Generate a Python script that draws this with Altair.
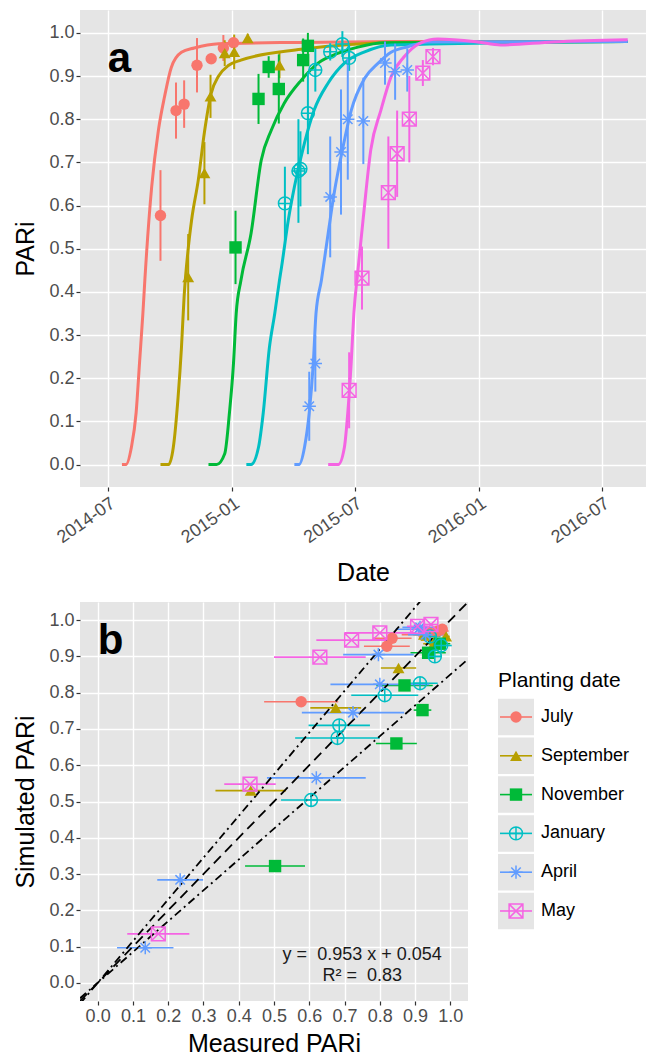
import altair as alt
import pandas as pd

FONT = "Liberation Sans"
BG = "#E5E5E5"

series = ["July", "September", "November", "January", "April", "May"]
palette = ["#F8766D", "#B79F00", "#00BA38", "#00BFC4", "#619CFF", "#F564E3"]
filled_series = ["July", "September", "November"]
open_series = ["January", "April", "May"]

CIRCLE_PLUS = "M-1,0A1,1,0,1,1,1,0A1,1,0,1,1,-1,0ZM-1,0L1,0M0,-1L0,1"
ASTERISK = "M-1,0L1,0M0,-1L0,1M-0.71,-0.71L0.71,0.71M-0.71,0.71L0.71,-0.71"
SQUARE_X = "M-1,-1L1,-1L1,1L-1,1ZM-1,-1L1,1M-1,1L1,-1"
shapes = ["circle", "triangle-up", "square", CIRCLE_PLUS, ASTERISK, SQUARE_X]
sizes = [130, 190, 120, 170, 320, 160]

# ---------------- simulated PARi curves (panel a) ----------------
july_curve_date = ["2014-07-22", "2014-07-28", "2014-08-05", "2014-08-12", "2014-08-17", "2014-08-22",
                   "2014-08-25", "2014-09-04", "2014-09-14", "2014-09-23", "2014-10-03", "2014-10-18",
                   "2014-11-06", "2014-12-12", "2015-04-13", "2015-09-08", "2016-08-08"]
july_curve_pari = [0, 0, 0.04, 0.12, 0.235, 0.35, 0.43, 0.643, 0.775, 0.852, 0.92, 0.955,
                   0.965, 0.975, 0.978, 0.98, 0.98]

sep_curve_date = ["2014-09-17", "2014-09-29", "2014-10-06", "2014-10-13", "2014-10-18", "2014-10-22",
                  "2014-10-28", "2014-11-02", "2014-11-12", "2014-11-21", "2014-12-01", "2014-12-12",
                  "2014-12-27", "2015-01-14", "2015-04-13", "2015-09-08", "2016-08-08"]
sep_curve_pari = [0, 0, 0.04, 0.155, 0.27, 0.39, 0.5, 0.566, 0.66, 0.77, 0.86, 0.90,
                  0.925, 0.937, 0.962, 0.978, 0.98]

nov_curve_date = ["2014-11-27", "2014-12-09", "2014-12-21", "2014-12-28", "2015-01-03", "2015-01-07",
                  "2015-01-14", "2015-01-29", "2015-02-13", "2015-02-28", "2015-03-19", "2015-04-13",
                  "2015-05-08", "2015-06-07", "2015-07-06", "2015-08-14", "2016-08-08"]
nov_curve_pari = [0, 0, 0.025, 0.12, 0.235, 0.35, 0.427, 0.536, 0.705, 0.775, 0.837, 0.89,
                  0.93, 0.953, 0.967, 0.977, 0.98]

jan_curve_date = ["2015-01-22", "2015-01-29", "2015-02-09", "2015-02-16", "2015-02-25", "2015-03-05",
                  "2015-03-12", "2015-03-15", "2015-03-25", "2015-04-03", "2015-04-18", "2015-05-02",
                  "2015-05-23", "2015-06-16", "2015-07-16", "2015-08-24", "2016-08-08"]
jan_curve_pari = [0, 0, 0.04, 0.12, 0.27, 0.35, 0.427, 0.457, 0.566, 0.643, 0.745, 0.82,
                  0.884, 0.93, 0.956, 0.972, 0.98]

apr_curve_date = ["2015-04-03", "2015-04-10", "2015-04-18", "2015-04-25", "2015-05-01", "2015-05-05",
                  "2015-05-13", "2015-05-23", "2015-06-01", "2015-06-14", "2015-06-26", "2015-07-16",
                  "2015-08-05", "2015-08-24", "2015-09-18", "2015-10-18", "2016-08-08"]
apr_curve_pari = [0, 0, 0.04, 0.12, 0.235, 0.35, 0.427, 0.536, 0.63, 0.736, 0.82, 0.895,
                  0.93, 0.955, 0.968, 0.979, 0.98]

may_curve_date = ["2015-05-23", "2015-06-07", "2015-06-16", "2015-06-21", "2015-06-26", "2015-06-30",
                  "2015-07-06", "2015-07-14", "2015-07-25", "2015-08-09", "2015-08-24", "2015-09-12",
                  "2015-10-07", "2015-11-01", "2015-12-30", "2016-02-02", "2016-04-20", "2016-08-08"]
may_curve_pari = [0, 0, 0.04, 0.12, 0.235, 0.35, 0.45, 0.573, 0.729, 0.821, 0.898, 0.944,
                  0.977, 0.986, 0.979, 0.972, 0.979, 0.984]

# ---------------- observations: date, measured PARi, SD, simulated PARi ----------------
july_obs_date = ["2014-09-17", "2014-10-10", "2014-10-22", "2014-11-10", "2014-12-01", "2014-12-19", "2015-01-03"]
july_measured = [0.577, 0.82, 0.835, 0.925, 0.94, 0.965, 0.977]
july_sd = [0.105, 0.065, 0.055, 0.063, 0.012, 0.03, 0.012]
july_simulated = [0.775, 0.928, 0.95, 0.96, 0.965, 0.97, 0.975]

sep_obs_date = ["2014-10-28", "2014-11-21", "2014-11-30", "2014-12-21", "2015-01-04", "2015-01-24", "2015-03-12"]
sep_measured = [0.434, 0.675, 0.853, 0.953, 0.956, 0.988, 0.925]
sep_sd = [0.1, 0.072, 0.05, 0.03, 0.04, 0.01, 0.03]
sep_simulated = [0.53, 0.758, 0.868, 0.935, 0.945, 0.955, 0.96]

nov_obs_date = ["2015-01-06", "2015-02-09", "2015-02-24", "2015-03-11", "2015-04-16", "2015-04-23"]
nov_measured = [0.503, 0.847, 0.921, 0.870, 0.937, 0.970]
nov_sd = [0.085, 0.058, 0.025, 0.08, 0.05, 0.03]
nov_simulated = [0.322, 0.66, 0.752, 0.82, 0.91, 0.935]

jan_obs_date = ["2015-03-20", "2015-04-09", "2015-04-12", "2015-04-23", "2015-05-04", "2015-05-26", "2015-06-13", "2015-06-23"]
jan_measured = [0.605, 0.680, 0.685, 0.814, 0.914, 0.956, 0.974, 0.942]
jan_sd = [0.085, 0.12, 0.087, 0.095, 0.05, 0.02, 0.03, 0.03]
jan_simulated = [0.504, 0.675, 0.71, 0.793, 0.826, 0.90, 0.93, 0.955]

apr_obs_date = ["2015-04-25", "2015-05-04", "2015-05-26", "2015-06-11", "2015-06-21", "2015-07-14", "2015-08-15", "2015-08-30", "2015-09-17"]
apr_measured = [0.135, 0.234, 0.62, 0.724, 0.80, 0.796, 0.93, 0.91, 0.914]
apr_sd = [0.08, 0.065, 0.14, 0.145, 0.14, 0.1, 0.05, 0.065, 0.05]
apr_simulated = [0.097, 0.284, 0.565, 0.745, 0.823, 0.905, 0.96, 0.975, 0.98]

may_obs_date = ["2015-06-23", "2015-07-12", "2015-08-20", "2015-09-02", "2015-09-20", "2015-10-10", "2015-10-25"]
may_measured = [0.172, 0.432, 0.63, 0.72, 0.80, 0.907, 0.945]
may_sd = [0.088, 0.073, 0.13, 0.1, 0.1, 0.03, 0.02]
may_simulated = [0.135, 0.548, 0.898, 0.945, 0.965, 0.983, 0.988]

# reference lines of panel b (1:1 and +/-15 %)
ref_x = [-0.05, 1.05]
ref_slopes = {"one": 1.0, "upper": 1.15, "lower": 0.85}

eq_text = ["y =\u00a0 0.953 x + 0.054", "R\u00b2 =\u00a0 0.83"]

# ---------------- tables ----------------
curve_lists = [(july_curve_date, july_curve_pari), (sep_curve_date, sep_curve_pari),
               (nov_curve_date, nov_curve_pari), (jan_curve_date, jan_curve_pari),
               (apr_curve_date, apr_curve_pari), (may_curve_date, may_curve_pari)]
curves = pd.concat([pd.DataFrame({"series": s, "date": d, "pari": v})
                    for s, (d, v) in zip(series, curve_lists)], ignore_index=True)

obs_lists = [(july_obs_date, july_measured, july_sd, july_simulated),
             (sep_obs_date, sep_measured, sep_sd, sep_simulated),
             (nov_obs_date, nov_measured, nov_sd, nov_simulated),
             (jan_obs_date, jan_measured, jan_sd, jan_simulated),
             (apr_obs_date, apr_measured, apr_sd, apr_simulated),
             (may_obs_date, may_measured, may_sd, may_simulated)]
obs = pd.concat([pd.DataFrame({"series": s, "date": d, "measured": m, "sd": e, "simulated": sim})
                 for s, (d, m, e, sim) in zip(series, obs_lists)], ignore_index=True)
obs["lo"] = obs["measured"] - obs["sd"]
obs["hi"] = obs["measured"] + obs["sd"]

ref = pd.DataFrame([{"kind": k, "x": x, "y": sl * x} for k, sl in ref_slopes.items() for x in ref_x])

color_enc = alt.Color("series:N", scale=alt.Scale(domain=series, range=palette), legend=None)
shape_enc = alt.Shape("series:N", scale=alt.Scale(domain=series, range=shapes), legend=None)
size_enc = alt.Size("series:N", scale=alt.Scale(domain=series, range=sizes), legend=None)

# ---------------- panel a ----------------
def dt(y, m, d):
    return alt.DateTime(year=y, month=m, date=d, utc=True)

x_scale_a = alt.Scale(type="utc", domain=[dt(2014, 5, 21), dt(2016, 9, 4)])
x_axis_a = alt.Axis(values=[dt(2014, 7, 1), dt(2015, 1, 1), dt(2015, 7, 1), dt(2016, 1, 1), dt(2016, 7, 1)],
                    format="%Y-%m", labelAngle=325, labelAlign="right", labelBaseline="top",
                    title="Date", titlePadding=14, labelPadding=3)
y_scale_a = alt.Scale(domain=[-0.052, 1.053], nice=False, zero=False)
y_axis_a = alt.Axis(values=[round(i * 0.1, 1) for i in range(11)], format=".1f", title="PARi", titlePadding=10)

def xa(f):
    return alt.X(f"{f}:T", scale=x_scale_a, axis=x_axis_a)

def ya(f):
    return alt.Y(f"{f}:Q", scale=y_scale_a, axis=y_axis_a)

base_curves = alt.Chart(curves)
line_layers = [base_curves.transform_filter(alt.datum.series == s)
               .mark_line(strokeWidth=3, color=c, strokeJoin="round", interpolate="monotone")
               .encode(x=xa("date"), y=ya("pari"), order="date:T")
               for s, c in zip(series, palette)]

base_obs = alt.Chart(obs)
err_a = base_obs.mark_rule(strokeWidth=2).encode(x=xa("date"), y=ya("lo"), y2="hi", color=color_enc)
pts_a_filled = base_obs.transform_filter(alt.FieldOneOfPredicate(field="series", oneOf=filled_series)).mark_point(
    filled=True, opacity=1).encode(x=xa("date"), y=ya("measured"), color=color_enc, shape=shape_enc, size=size_enc)
pts_a_open = base_obs.transform_filter(alt.FieldOneOfPredicate(field="series", oneOf=open_series)).mark_point(
    filled=False, opacity=1, strokeWidth=1.5).encode(x=xa("date"), y=ya("measured"), color=color_enc,
                                                     shape=shape_enc, size=size_enc)
tag_a = alt.Chart(pd.DataFrame({"date": ["2014-07-01"], "pari": [0.91], "tag": ["a"]})).mark_text(
    align="left", baseline="alphabetic", fontSize=42, fontWeight="bold", font=FONT, color="black"
).encode(x=xa("date"), y=ya("pari"), text="tag:N")

panel_a = alt.layer(*line_layers, err_a, pts_a_filled, pts_a_open, tag_a).properties(width=566, height=477)

# ---------------- panel b ----------------
tick_vals = [round(i * 0.1, 1) for i in range(11)]
sc_b = alt.Scale(domain=[-0.05, 1.05], nice=False, zero=False)
x_axis_b = alt.Axis(values=tick_vals, format=".1f", title="Measured PARi", titlePadding=6)
y_axis_b = alt.Axis(values=tick_vals, format=".1f", title="Simulated PARi", titlePadding=10)

def xb(f):
    return alt.X(f"{f}:Q", scale=sc_b, axis=x_axis_b)

def yb(f):
    return alt.Y(f"{f}:Q", scale=sc_b, axis=y_axis_b)

base_ref = alt.Chart(ref)
ref_one = base_ref.transform_filter(alt.datum.kind == "one").mark_line(
    clip=True, color="black", strokeWidth=1.8, strokeDash=[10, 6]).encode(x=xb("x"), y=yb("y"))
ref_up = base_ref.transform_filter(alt.datum.kind == "upper").mark_line(
    clip=True, color="black", strokeWidth=1.8, strokeDash=[8, 4, 2, 4]).encode(x=xb("x"), y=yb("y"))
ref_low = base_ref.transform_filter(alt.datum.kind == "lower").mark_line(
    clip=True, color="black", strokeWidth=1.8, strokeDash=[8, 4, 2, 4]).encode(x=xb("x"), y=yb("y"))

err_b = base_obs.mark_rule(strokeWidth=1.6).encode(x=xb("lo"), x2="hi", y=yb("simulated"), color=color_enc)
pts_b_filled = base_obs.transform_filter(alt.FieldOneOfPredicate(field="series", oneOf=filled_series)).mark_point(
    filled=True, opacity=1).encode(x=xb("measured"), y=yb("simulated"), color=color_enc, shape=shape_enc,
                                   size=size_enc)
pts_b_open = base_obs.transform_filter(alt.FieldOneOfPredicate(field="series", oneOf=open_series)).mark_point(
    filled=False, opacity=1, strokeWidth=1.5).encode(x=xb("measured"), y=yb("simulated"), color=color_enc,
                                                     shape=shape_enc, size=size_enc)
tag_b = alt.Chart(pd.DataFrame({"x": [0.0], "y": [0.906], "tag": ["b"]})).mark_text(
    align="left", baseline="alphabetic", fontSize=42, fontWeight="bold", font=FONT, color="black"
).encode(x=xb("x"), y=yb("y"), text="tag:N")
eq = alt.Chart(pd.DataFrame({"x": [0.75, 0.75], "y": [0.077, 0.019], "t": eq_text})).mark_text(
    align="center", baseline="middle", fontSize=18, font=FONT, color="#1a1a1a"
).encode(x=xb("x"), y=yb("y"), text="t:N")

panel_b = alt.layer(err_b, ref_one, ref_up, ref_low, pts_b_filled, pts_b_open, tag_b, eq).properties(
    width=388, height=399)

# ---------------- legend ----------------
leg = pd.DataFrame({"series": series, "idx": list(range(len(series)))})
leg["top"] = leg["idx"] - 0.47
leg["bot"] = leg["idx"] + 0.47
leg_scale = alt.Scale(domain=[-2.964, 7.32], reverse=True, nice=False, zero=False)
leg_y = alt.Y("idx:Q", scale=leg_scale, axis=None)
base_leg = alt.Chart(leg)
leg_keys = base_leg.mark_rect(color=BG).encode(
    x=alt.value(0), x2=alt.value(36), y=alt.Y("top:Q", scale=leg_scale, axis=None), y2="bot:Q")
leg_lines = base_leg.mark_rule(strokeWidth=1.6).encode(x=alt.value(2), x2=alt.value(34), y=leg_y, color=color_enc)
leg_pf = base_leg.transform_filter(alt.FieldOneOfPredicate(field="series", oneOf=filled_series)).mark_point(
    filled=True, opacity=1).encode(x=alt.value(18), y=leg_y, color=color_enc, shape=shape_enc, size=size_enc)
leg_po = base_leg.transform_filter(alt.FieldOneOfPredicate(field="series", oneOf=open_series)).mark_point(
    filled=False, opacity=1, strokeWidth=1.5).encode(x=alt.value(18), y=leg_y, color=color_enc,
                                                     shape=shape_enc, size=size_enc)
leg_text = base_leg.mark_text(align="left", baseline="middle", fontSize=18, font=FONT, color="black").encode(
    x=alt.value(43), y=leg_y, text="series:N")
leg_title = alt.Chart(pd.DataFrame({"idx": [-0.93], "t": ["Planting date"]})).mark_text(
    align="left", baseline="middle", fontSize=21, font=FONT, color="black").encode(
    x=alt.value(0), y=leg_y, text="t:N")

legend = alt.layer(leg_keys, leg_lines, leg_pf, leg_po, leg_text, leg_title).properties(
    width=148, height=399, view=alt.ViewBackground(fill="white", strokeWidth=0))

chart = alt.vconcat(
    panel_a,
    alt.hconcat(panel_b, legend, spacing=30),
    spacing=16,
).properties(
    padding={"left": 5, "top": 2, "right": 0, "bottom": 0},
    background="white",
).configure_view(
    fill=BG, strokeWidth=0
).configure_axis(
    labelFont=FONT, titleFont=FONT, labelFontSize=18, titleFontSize=25,
    labelColor="#4D4D4D", titleColor="black", titleFontWeight="normal",
    grid=True, gridColor="white", gridWidth=1.4, domain=False,
    tickColor="#333333", tickSize=4, tickWidth=1.2, labelPadding=2,
)

chart.save("out.html", embed_options={"renderer": "svg", "actions": False})
